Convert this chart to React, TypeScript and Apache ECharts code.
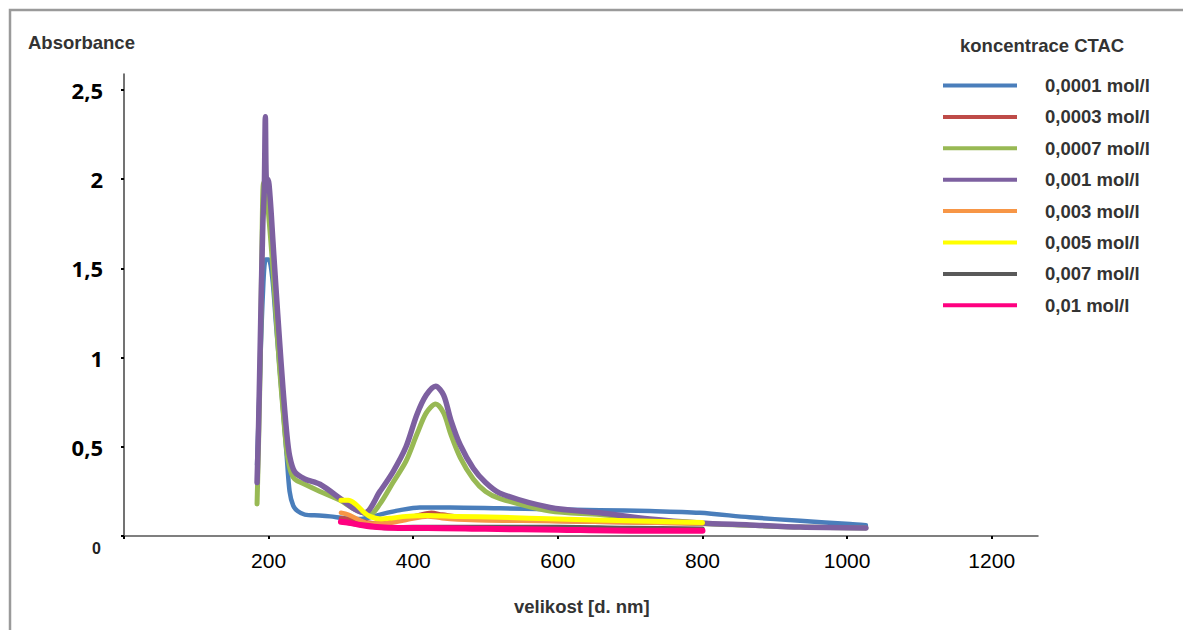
import React, { useEffect, useRef } from "react";
import * as echarts from "echarts";

const seriesNames = [
  "0,0001 mol/l",
  "0,0003 mol/l",
  "0,0007 mol/l",
  "0,001 mol/l",
  "0,003 mol/l",
  "0,005 mol/l",
  "0,007 mol/l",
  "0,01 mol/l",
];

const seriesColors = ["#4A7EBB", "#BE4B48", "#98B954", "#7D60A0", "#F79646", "#FFFF00", "#595959", "#FF0080"];

const blue: number[][] = [
  [184, 0.4], [188, 0.9], [192, 1.35], [196, 1.55], [200, 1.55], [205, 1.45], [210, 1.2], [215, 0.95],
  [220, 0.7], [225, 0.45], [229, 0.25], [234, 0.17], [240, 0.14], [250, 0.12], [270, 0.115], [285, 0.11],
  [305, 0.1], [326, 0.095], [340, 0.105], [354, 0.12], [382, 0.145], [409, 0.16], [451, 0.16], [520, 0.155],
  [589, 0.15], [658, 0.145], [727, 0.14], [796, 0.13], [865, 0.105], [935, 0.085], [1004, 0.067], [1026, 0.06],
];

const red: number[][] = [
  [300, 0.1], [320, 0.09], [350, 0.07], [380, 0.09], [410, 0.12], [425, 0.13], [440, 0.12], [480, 0.1],
  [550, 0.09], [650, 0.08], [800, 0.07],
];

const green: number[][] = [
  [184, 0.18], [186, 0.5], [189, 1.1], [191, 1.7], [193, 1.98], [196, 1.95], [200, 1.8], [205, 1.55],
  [210, 1.25], [215, 0.95], [220, 0.7], [225, 0.48], [230, 0.37], [236, 0.32], [250, 0.29], [271, 0.25],
  [299, 0.2], [319, 0.15], [340, 0.12], [354, 0.18], [372, 0.3], [390, 0.42], [405, 0.57], [418, 0.69],
  [431, 0.74], [442, 0.69], [452, 0.57], [465, 0.44], [483, 0.32], [500, 0.25], [520, 0.21], [589, 0.14],
  [658, 0.12], [727, 0.09], [796, 0.07], [865, 0.06], [935, 0.05], [1026, 0.045],
];

const purple: number[][] = [
  [184, 0.3], [186, 0.6], [189, 1.2], [192, 1.75], [194, 1.95], [195.5, 2.35], [197, 2.0], [199, 2.0],
  [202, 1.9], [206, 1.65], [210, 1.4], [215, 1.1], [220, 0.82], [225, 0.58], [229, 0.45], [236, 0.36],
  [250, 0.32], [271, 0.29], [299, 0.21], [319, 0.15], [333, 0.13], [354, 0.25], [372, 0.36], [390, 0.5],
  [405, 0.68], [418, 0.79], [431, 0.84], [442, 0.79], [452, 0.65], [465, 0.51], [483, 0.38], [500, 0.3],
  [520, 0.24], [589, 0.16], [658, 0.13], [727, 0.095], [796, 0.073], [865, 0.062], [935, 0.05], [1026, 0.045],
];

const orange: number[][] = [
  [300, 0.13], [310, 0.12], [325, 0.09], [340, 0.07], [360, 0.07], [390, 0.09], [420, 0.11], [440, 0.1],
  [480, 0.09], [550, 0.085], [650, 0.08], [800, 0.07],
];

const yellow: number[][] = [
  [300, 0.2], [310, 0.2], [320, 0.18], [330, 0.14], [340, 0.11], [355, 0.095], [370, 0.1], [390, 0.11],
  [420, 0.115], [460, 0.11], [520, 0.105], [600, 0.095], [700, 0.085], [800, 0.075],
];

const gray: number[][] = [
  [300, 0.08], [330, 0.06], [360, 0.045], [400, 0.05], [500, 0.05], [600, 0.05], [700, 0.045], [800, 0.04],
];

const pink: number[][] = [
  [300, 0.08], [310, 0.075], [330, 0.06], [350, 0.05], [380, 0.045], [420, 0.045], [500, 0.04], [600, 0.035],
  [700, 0.03], [800, 0.03],
];

const seriesData = [blue, red, green, purple, orange, yellow, gray, pink];
const lineWidths = [4.5, 4.5, 5, 5.5, 4.5, 5, 4.5, 6];

export default function App() {
  const ref = useRef<HTMLDivElement>(null);
  useEffect(() => {
    if (!ref.current) return;
    const chart = echarts.init(ref.current, undefined, { renderer: "svg" });
    chart.setOption({
      animation: false,
      backgroundColor: "#ffffff",
      grid: { left: 124, right: 145, top: 74, bottom: 94 },
      xAxis: {
        type: "value",
        min: 0,
        max: 1264,
        interval: 200,
        splitLine: { show: false },
        axisLine: { lineStyle: { color: "#555555", width: 1.5 } },
        axisTick: { show: true, length: 3, lineStyle: { color: "#000", width: 2 } },
        axisLabel: {
          showMaxLabel: false,
          margin: 14,
          fontFamily: "Liberation Sans, Arial, sans-serif",
          fontSize: 21,
          color: "#000",
          formatter: (v: number) => (v === 0 ? "" : String(v)),
        },
      },
      yAxis: {
        type: "value",
        min: 0,
        max: 2.59,
        interval: 0.5,
        splitLine: { show: false },
        axisLine: { show: true, lineStyle: { color: "#444444", width: 1.5 } },
        axisTick: { show: true, length: 3, lineStyle: { color: "#000", width: 2 } },
        axisLabel: {
          showMaxLabel: false,
          margin: 21,
          fontFamily: "Open Sans, sans-serif",
          fontWeight: "bold",
          fontSize: 22,
          color: "#000",
          formatter: (v: number) => (v === 0 ? "" : String(v).replace(".", ",")),
        },
      },
      legend: {
        orient: "vertical",
        left: 943,
        top: 76,
        padding: 0,
        itemWidth: 74,
        itemHeight: 4,
        itemGap: 12.4,
        icon: "rect",
        data: seriesNames,
        textStyle: {
          fontFamily: "Liberation Sans, Arial, sans-serif",
          fontWeight: "bold",
          fontSize: 18.5,
          lineHeight: 18,
          color: "#333",
          padding: [0, 0, 0, 23],
        },
      },
      graphic: [
        {
          type: "rect",
          shape: { x: 10, y: 10, width: 1300, height: 800 },
          style: { fill: "none", stroke: "#9a9a9a", lineWidth: 2.5 },
          silent: true,
        },
        {
          type: "text",
          left: 28,
          top: 33,
          style: { text: "Absorbance", font: "bold 18.5px Liberation Sans, Arial, sans-serif", fill: "#333" },
        },
        {
          type: "text",
          left: 960,
          top: 36,
          style: { text: "koncentrace CTAC", font: "bold 18.5px Liberation Sans, Arial, sans-serif", fill: "#333" },
        },
        {
          type: "text",
          left: 514,
          top: 597,
          style: { text: "velikost [d. nm]", font: "bold 18.5px Liberation Sans, Arial, sans-serif", fill: "#333" },
        },
        {
          type: "text",
          left: 92,
          top: 540,
          style: { text: "0", font: "bold 16px Liberation Sans, Arial, sans-serif", fill: "#222" },
        },
      ],
      series: seriesNames.map((name, i) => ({
        name,
        type: "line",
        data: seriesData[i],
        showSymbol: false,
        smooth: 0.3,
        color: seriesColors[i],
        lineStyle: { width: lineWidths[i], color: seriesColors[i], cap: "round", join: "round" },
      })),
    });
    return () => chart.dispose();
  }, []);
  return <div ref={ref} style={{ position: "fixed", left: 0, top: 0, width: 1183, height: 630 }} />;
}
